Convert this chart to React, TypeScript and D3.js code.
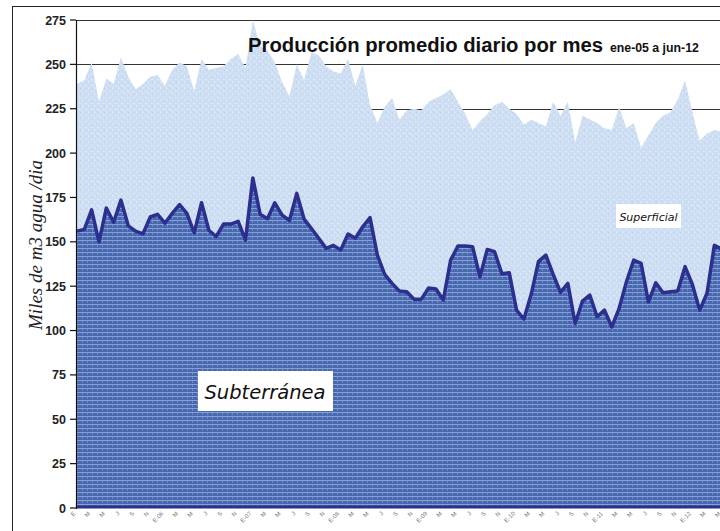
import React, { useEffect, useRef } from "react";
import * as d3 from "d3";

// Miles de m3/dia, ene-05 .. jun-12 (90 meses)
const subterranea = [
  156, 157, 168, 150, 169, 161, 173.5, 159, 156, 154.5, 164, 165.5,
  160.5, 166, 171, 166, 155, 172, 156.5, 153, 160, 160, 161.5, 151,
  186, 165.5, 163, 172, 165, 162, 177.3, 162.8, 157.5, 152, 146.3, 148,
  145.4, 154.4, 152, 158.5, 163.6, 142.5, 131.6, 126.6, 122.3, 121.9, 117.7, 117.7,
  124, 123.4, 117.2, 139.7, 147.6, 147.6, 147.2, 130.3, 145.7, 144.4, 132, 132.6,
  111.5, 106.5, 120.4, 139, 142.5, 131.6, 121.5, 126.6, 104, 116.6, 120, 107.8,
  111.5, 102, 112.5, 127.5, 139.7, 137.9, 116.2, 126.9, 121.3, 121.9, 122.3, 136,
  126, 111.5, 121, 148, 146, 140,
];

// subterranea + superficial
const produccionTotal = [
  239, 241, 251, 229, 242, 239, 254, 243, 236, 239, 243, 244,
  238, 247, 251, 249, 235, 253, 247, 248, 249, 253, 256, 248,
  275, 260, 258, 251, 240, 232, 250, 241, 257, 255, 249, 246,
  245, 253, 238, 250, 227, 217, 226, 231, 219, 224, 225, 224,
  229, 231, 233, 236, 229, 222, 213, 218, 222, 227, 229, 225,
  222, 216, 219, 217, 215, 229, 221, 229, 206, 221, 219, 217,
  214, 213, 226, 214, 217, 203, 210, 217, 221, 223, 230, 241,
  223, 207, 211, 213, 212, 214,
];

// una etiqueta cada dos meses
const etiquetasMes = [
  "E", "M", "M", "J", "S", "N",
  "E-06", "M", "M", "J", "S", "N",
  "E-07", "M", "M", "J", "S", "N",
  "E-08", "M", "M", "J", "S", "N",
  "E-09", "M", "M", "J", "S", "N",
  "E-10", "M", "M", "J", "S", "N",
  "E-11", "M", "M", "J", "S", "N",
  "E-12", "M", "M",
];

const yTicks = [0, 25, 50, 75, 100, 125, 150, 175, 200, 225, 250, 275];

export default function App() {
  const ref = useRef<SVGSVGElement>(null);

  useEffect(() => {
    document.body.style.margin = "0";
    const svg = d3.select(ref.current);
    svg.selectAll("*").remove();

    const x = d3.scaleLinear().domain([0, subterranea.length - 1]).range([77, 729]);
    const y = d3.scaleLinear().domain([0, 275]).range([508, 20]);

    const defs = svg.append("defs");

    // textura oscura (subterranea)
    const pd = defs.append("pattern")
      .attr("id", "texOscura")
      .attr("width", 5).attr("height", 4)
      .attr("patternUnits", "userSpaceOnUse");
    pd.append("rect").attr("width", 5).attr("height", 4).attr("fill", "#4868b0");
    pd.append("rect").attr("width", 5).attr("height", 1).attr("fill", "#9cb3e0").attr("opacity", 0.75);
    pd.append("rect").attr("x", 2).attr("width", 1).attr("height", 3).attr("fill", "#8aa3d8").attr("opacity", 0.55);

    // textura clara (superficial)
    const pl = defs.append("pattern")
      .attr("id", "texClara")
      .attr("width", 6).attr("height", 6)
      .attr("patternUnits", "userSpaceOnUse");
    pl.append("rect").attr("width", 6).attr("height", 6).attr("fill", "#cddef2");
    pl.append("rect").attr("x", 1).attr("y", 1).attr("width", 2).attr("height", 1).attr("fill", "#e2ecf9");
    pl.append("rect").attr("x", 4).attr("y", 3).attr("width", 1).attr("height", 2).attr("fill", "#e2ecf9");
    pl.append("rect").attr("x", 2).attr("y", 4).attr("width", 1).attr("height", 1).attr("fill", "#b9cfeb");

    svg.append("rect").attr("width", 720).attr("height", 531).attr("fill", "#fff");

    // marco exterior
    svg.append("rect")
      .attr("x", 12.5).attr("y", 6.5)
      .attr("width", 760).attr("height", 560)
      .attr("fill", "none").attr("stroke", "#222").attr("stroke-width", 1);

    // rejilla
    svg.append("g")
      .selectAll("line")
      .data(yTicks.filter(d => d > 0))
      .join("line")
        .attr("x1", 76).attr("x2", 760)
        .attr("y1", d => Math.round(y(d)) + 0.5)
        .attr("y2", d => Math.round(y(d)) + 0.5)
        .attr("stroke", "#333").attr("stroke-width", 1.2);

    const idx = d3.range(subterranea.length);

    const areaSuperficial = d3.area<number>()
      .x(i => x(i))
      .y0(i => y(subterranea[i]))
      .y1(i => y(produccionTotal[i]));

    const areaSubterranea = d3.area<number>()
      .x(i => x(i))
      .y0(y(0))
      .y1(i => y(subterranea[i]));

    const lineaSub = d3.line<number>()
      .x(i => x(i))
      .y(i => y(subterranea[i]));

    svg.append("path").datum(idx)
      .attr("d", areaSuperficial)
      .attr("fill", "url(#texClara)");

    svg.append("path").datum(idx)
      .attr("d", areaSubterranea)
      .attr("fill", "url(#texOscura)");

    svg.append("path").datum(idx)
      .attr("d", lineaSub)
      .attr("fill", "none")
      .attr("stroke", "#2c2f8e")
      .attr("stroke-width", 3.5)
      .attr("stroke-linejoin", "round");

    // linea base
    svg.append("line")
      .attr("x1", 76).attr("x2", 760)
      .attr("y1", y(0) - 1).attr("y2", y(0) - 1)
      .attr("stroke", "#2c2f8e").attr("stroke-width", 3);

    // eje y
    svg.append("line")
      .attr("x1", 76.5).attr("x2", 76.5)
      .attr("y1", y(275)).attr("y2", y(0) + 1)
      .attr("stroke", "#111").attr("stroke-width", 1.2);

    const ejeY = svg.append("g");
    ejeY.selectAll("line")
      .data(yTicks)
      .join("line")
        .attr("x1", 70).attr("x2", 76)
        .attr("y1", d => y(d)).attr("y2", d => y(d))
        .attr("stroke", "#111").attr("stroke-width", 1.2);
    ejeY.selectAll("text")
      .data(yTicks)
      .join("text")
        .attr("x", 66).attr("y", d => y(d) + 4.5)
        .attr("text-anchor", "end")
        .attr("font-family", "Liberation Sans, Arial, sans-serif")
        .attr("font-weight", "bold")
        .attr("font-size", 12.5)
        .attr("fill", "#222")
        .text(d => d);

    svg.append("text")
      .attr("transform", "translate(42,245) rotate(-90)")
      .attr("text-anchor", "middle")
      .attr("font-family", "Liberation Serif, Times New Roman, serif")
      .attr("font-style", "italic")
      .attr("font-size", 19)
      .attr("fill", "#222")
      .text("Miles de m3 agua /dia");

    // etiquetas del eje x
    svg.append("g")
      .selectAll("text")
      .data(etiquetasMes)
      .join("text")
        .attr("transform", (d, i) => `translate(${x(i * 2) - 1},514) rotate(-45)`)
        .attr("text-anchor", "end")
        .attr("font-family", "Liberation Sans, Arial, sans-serif")
        .attr("font-size", 6)
        .attr("fill", "#777")
        .text(d => d);

    // titulo
    const titulo = svg.append("text")
      .attr("x", 248).attr("y", 52)
      .attr("font-family", "Liberation Sans, Arial, sans-serif")
      .attr("font-weight", "bold")
      .attr("fill", "#111");
    titulo.append("tspan").attr("font-size", 20.3).text("Producción promedio diario por mes");
    titulo.append("tspan").attr("font-size", 12.3).attr("dx", 7).text("ene-05 a jun-12");

    // rotulos de series
    svg.append("rect")
      .attr("x", 198).attr("y", 371).attr("width", 135).attr("height", 40)
      .attr("fill", "#fff");
    svg.append("text")
      .attr("x", 265).attr("y", 399)
      .attr("text-anchor", "middle")
      .attr("font-family", "DejaVu Sans, Verdana, sans-serif")
      .attr("font-style", "italic")
      .attr("font-size", 19.5)
      .attr("fill", "#111")
      .text("Subterránea");

    svg.append("rect")
      .attr("x", 616).attr("y", 204).attr("width", 65).attr("height", 24)
      .attr("fill", "#fff");
    svg.append("text")
      .attr("x", 648.5).attr("y", 220.5)
      .attr("text-anchor", "middle")
      .attr("font-family", "DejaVu Sans, Verdana, sans-serif")
      .attr("font-style", "italic")
      .attr("font-size", 11)
      .attr("fill", "#111")
      .text("Superficial");
  }, []);

  return <svg ref={ref} width={720} height={531} style={{ display: "block" }} />;
}
